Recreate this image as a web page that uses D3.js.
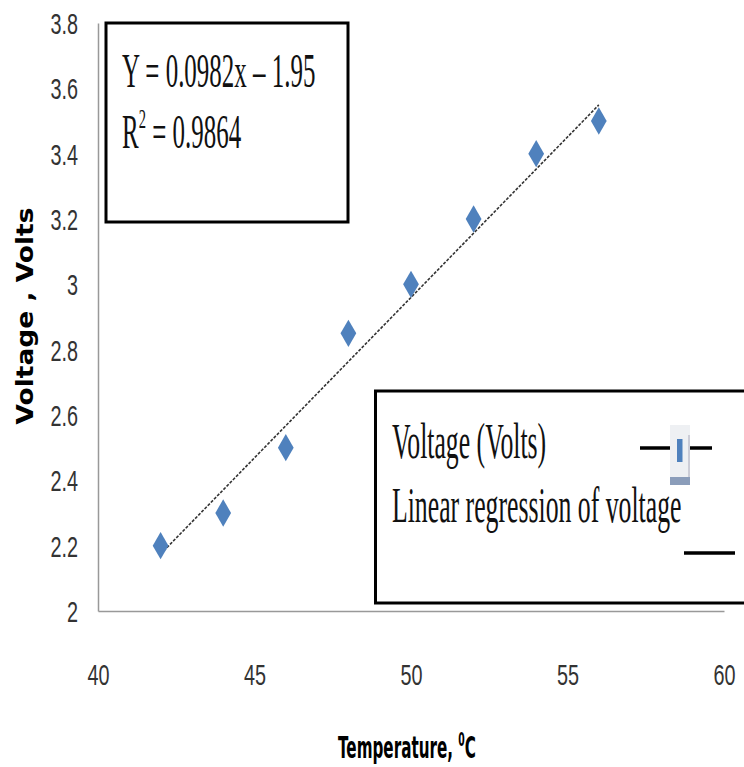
<!DOCTYPE html>
<html>
<head>
<meta charset="utf-8">
<script src="https://cdn.jsdelivr.net/npm/d3@7"></script>
<style>
    body { margin: 0; background: #fff; }
</style>
</head>
<body>
<div id="chart"></div>
<script>
// measured data
const temps = [42, 44, 46, 48, 50, 52, 54, 56];
const volts = [2.2, 2.3, 2.5, 2.85, 3.0, 3.2, 3.4, 3.5];
const xTicks = [40, 45, 50, 55, 60];
const yTicks = [2, 2.2, 2.4, 2.6, 2.8, 3, 3.2, 3.4, 3.6, 3.8];
const yTickLabels = ["2", "2.2", "2.4", "2.6", "2.8", "3", "3.2", "3.4", "3.6", "3.8"];
const fitSlope = 0.0982;
const fitIntercept = -1.95;
const fitRange = [42, 56];
const equationText = "Y = 0.0982x – 1.95";
const r2Value = "0.9864";
const legendLabels = ["Voltage (Volts)", "Linear regression of voltage"];

const W = 744, H = 767;

const x = d3.scaleLinear().domain([40, 60]).range([98, 724]);
const y = d3.scaleLinear().domain([2, 3.8]).range([611, 23]);

const svg = d3.select("#chart")
    .append("svg")
    .attr("width", W)
    .attr("height", H);

// text squeezed horizontally, like the source picture
function squished(g, px, py, sx, size, family, weight) {
    return g.append("text")
        .attr("transform", `translate(${px},${py}) scale(${sx},1)`)
        .style("font-family", family)
        .style("font-size", size + "px")
        .style("font-weight", weight || "normal");
}

// axes
const yAxis = svg.append("g")
    .attr("transform", `translate(${x(40)},0)`)
    .call(d3.axisLeft(y).tickValues(yTicks).tickSize(0).tickFormat((d, i) => yTickLabels[i]));
const xAxis = svg.append("g")
    .attr("transform", `translate(0,${y(2)})`)
    .call(d3.axisBottom(x).tickValues(xTicks).tickSize(0).tickFormat(d3.format("d")));

[yAxis, xAxis].forEach(a => {
    a.select(".domain").attr("stroke", "#999").attr("stroke-width", 1.5);
    a.selectAll("text")
        .style("font-family", "'Liberation Sans', Arial, sans-serif")
        .style("font-size", "30px")
        .attr("fill", "#333")
        .attr("dy", null);
});
yAxis.selectAll("text")
    .attr("x", null)
    .attr("transform", "translate(-20,10.5) scale(0.66,1)");
xAxis.selectAll("text")
    .attr("y", null)
    .attr("transform", "translate(0,74) scale(0.66,1)");

// trend line
svg.append("line")
    .attr("x1", x(fitRange[0]))
    .attr("y1", y(fitSlope * fitRange[0] + fitIntercept))
    .attr("x2", x(fitRange[1]))
    .attr("y2", y(fitSlope * fitRange[1] + fitIntercept))
    .attr("stroke", "#333")
    .attr("stroke-width", 1.6)
    .attr("stroke-dasharray", "3,1.5");

// points
svg.selectAll(".pt")
    .data(temps)
    .enter()
    .append("path")
    .attr("class", "pt")
    .attr("d", d3.symbol(d3.symbolDiamond, 215))
    .attr("transform", (d, i) => `translate(${x(d)},${y(volts[i])})`)
    .attr("fill", "#4f81bd");

// equation box
svg.append("rect")
    .attr("x", 106).attr("y", 23)
    .attr("width", 242).attr("height", 199)
    .attr("fill", "#fff").attr("stroke", "#000").attr("stroke-width", 3);

const serif = "'Liberation Serif', 'Times New Roman', serif";
squished(svg, 122, 87, 0.52, 48, serif).attr("fill", "#111").text(equationText);
const r2 = squished(svg, 122, 148, 0.52, 48, serif).attr("fill", "#111");
r2.append("tspan").text("R");
r2.append("tspan").attr("dy", -20).style("font-size", "28px").text("2");
r2.append("tspan").attr("dy", 20).text(" = " + r2Value);

// legend box
svg.append("rect")
    .attr("x", 375.5).attr("y", 391)
    .attr("width", 400).attr("height", 212)
    .attr("fill", "#fff").attr("stroke", "#000").attr("stroke-width", 3);

squished(svg, 392, 458, 0.515, 50, serif).attr("fill", "#111").text(legendLabels[0]);
squished(svg, 392, 522, 0.515, 50, serif).attr("fill", "#111").text(legendLabels[1]);

// legend samples
svg.append("line")
    .attr("x1", 640).attr("x2", 712).attr("y1", 448).attr("y2", 448)
    .attr("stroke", "#000").attr("stroke-width", 3.5);
svg.append("rect")
    .attr("x", 670).attr("y", 425).attr("width", 20).attr("height", 60)
    .attr("fill", "#eef0f3");
svg.append("rect")
    .attr("x", 670).attr("y", 477).attr("width", 20).attr("height", 8)
    .attr("fill", "#8b9dba");
svg.append("line")
    .attr("x1", 689).attr("x2", 689).attr("y1", 435).attr("y2", 477)
    .attr("stroke", "#aab").attr("stroke-width", 1);
svg.append("rect")
    .attr("x", 677).attr("y", 439).attr("width", 5.5).attr("height", 23)
    .attr("fill", "#4f81bd");
svg.append("line")
    .attr("x1", 684).attr("x2", 735).attr("y1", 553).attr("y2", 553)
    .attr("stroke", "#000").attr("stroke-width", 3.5);

// axis titles
const sans = "'DejaVu Sans', Verdana, sans-serif";
svg.append("text")
    .attr("transform", "translate(33,316) scale(0.9,1) rotate(-90)")
    .attr("text-anchor", "middle")
    .style("font-family", sans)
    .style("font-size", "26.5px")
    .style("font-weight", "bold")
    .text("Voltage , Volts");

const xt = squished(svg, 338, 758, 0.49, 31, sans, "bold");
xt.append("tspan").text("Temperature, ");
xt.append("tspan").attr("dy", -12).style("font-size", "19px").text("0");
xt.append("tspan").attr("dy", 12).text("C");
</script>
</body>
</html>
